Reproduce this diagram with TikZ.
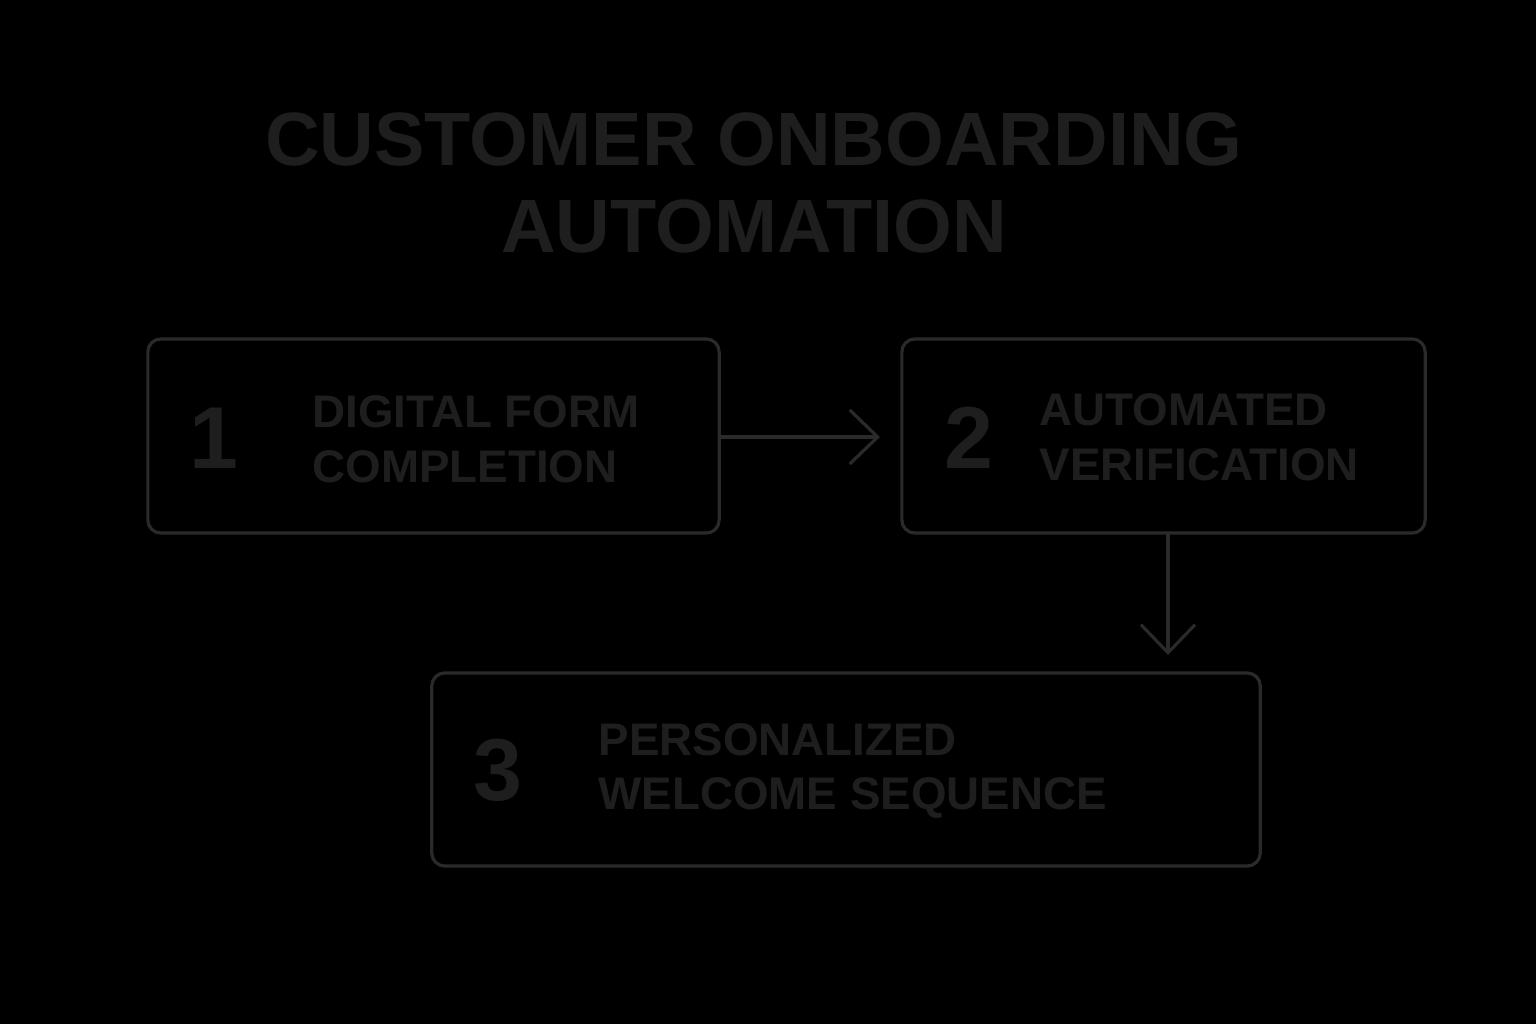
\documentclass[tikz,border=0pt]{standalone}
\usepackage{fontspec}
\setmainfont{Liberation Sans}
\usetikzlibrary{arrows.meta}
\definecolor{bg}{HTML}{000000}
\definecolor{txt}{HTML}{1E1E1E}
\definecolor{ln}{HTML}{2A2A2A}
\begin{document}
\begin{tikzpicture}[x=0.01cm,y=-0.01cm,
  stepbox/.style={draw=ln,line width=0.9pt,rounded corners=0.13cm,inner sep=0pt},
  numtxt/.style={text=txt,font=\bfseries\fontsize{25}{30}\selectfont,anchor=center},
  labtxt/.style={text=txt,font=\bfseries\fontsize{13}{15.6}\selectfont,anchor=west,align=left,inner sep=0pt},
  titletxt/.style={text=txt,font=\bfseries\fontsize{21.5}{24.5}\selectfont,align=center},
  conn/.style={draw=ln,line width=0.9pt,-{Straight Barb[length=0.28cm,width=0.54cm]}}]
\fill[bg] (0,0) rectangle (1536,1024);
\useasboundingbox (0,0) rectangle (1536,1024);
\node[titletxt] (title) at (754,183) {CUSTOMER ONBOARDING\\AUTOMATION};
\node[stepbox,minimum width=5.71cm,minimum height=1.94cm] (b1) at (433.5,436) {};
\node[stepbox,minimum width=5.23cm,minimum height=1.94cm] (b2) at (1163.5,436) {};
\node[stepbox,minimum width=8.28cm,minimum height=1.93cm] (b3) at (846,769.5) {};
\node[numtxt] (n1) at (214,438) {1};
\node[numtxt] (n2) at (969,438) {2};
\node[numtxt] (n3) at (498,770) {3};
\node[labtxt] (l1) at (312,439) {DIGITAL FORM\\COMPLETION};
\node[labtxt] (l2) at (1039,437) {AUTOMATED\\VERIFICATION};
\node[labtxt] (l3) at (598,771) {PERSONALIZED\\WELCOME SEQUENCE};
\coordinate (a1) at (880,437);
\coordinate (a2s) at (1168,533);
\coordinate (a2e) at (1168,655);
\draw[conn] (b1.east |- a1) -- (a1);
\draw[conn] (a2s) -- (a2e);
\end{tikzpicture}
\end{document}
